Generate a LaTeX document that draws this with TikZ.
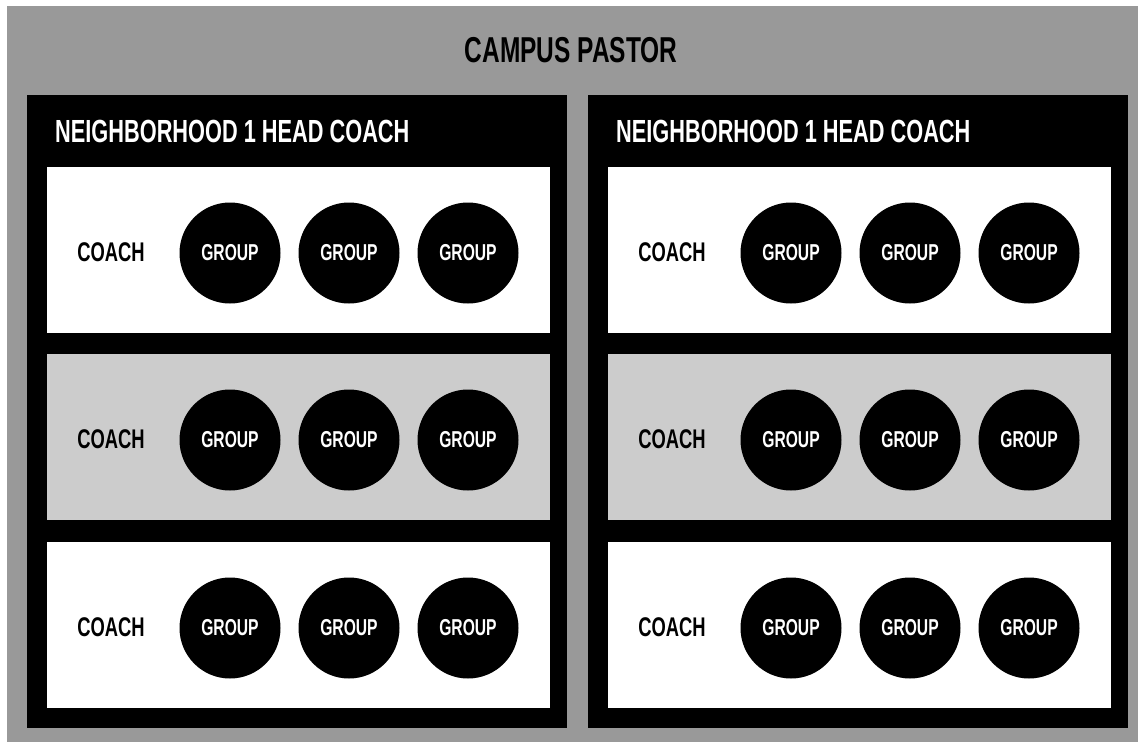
\documentclass[tikz,border=0pt]{standalone}
\usepackage{fontspec}
\setmainfont{Liberation Sans}[FakeStretch=0.68]
\definecolor{pastorgray}{HTML}{999999}
\definecolor{rowgray}{HTML}{CCCCCC}

\begin{document}
\begin{tikzpicture}[x=1pt, y=-1pt,
    headtext/.style={font=\bfseries\fontsize{32}{32}\selectfont, inner sep=0pt},
    coachtext/.style={font=\bfseries\fontsize{27}{27}\selectfont, inner sep=0pt},
    groupdot/.style={circle, fill=black, text=white, minimum size=101pt, inner sep=0pt, font=\bfseries\fontsize{23}{23}\selectfont}]
    \useasboundingbox (0,0) rectangle (1138,742);
    \fill[pastorgray] (7,6) rectangle (1138,742);
    \node[headtext, font=\bfseries\fontsize{36}{36}\selectfont] (pastor) at (571,50) {CAMPUS PASTOR};
    \foreach \p/\x in {1/27, 2/588} {
        \fill[black] (\x,95) rectangle ++(540,633);
        \node[headtext, text=white, anchor=west] (head\p) at (\x+28,131) {NEIGHBORHOOD 1 HEAD COACH};
        \foreach \r/\y/\c in {1/167/white, 2/354/rowgray, 3/542/white} {
            \fill[\c] (\x+20,\y) rectangle ++(503,166);
            \node[coachtext] (coach\p\r) at (\x+84,\y+85) {COACH};
            \foreach \g/\dx in {1/203, 2/322, 3/441}
                \node[groupdot] (group\p\r\g) at (\x+\dx,\y+86) {GROUP};
        }
    }
\end{tikzpicture}
\end{document}
